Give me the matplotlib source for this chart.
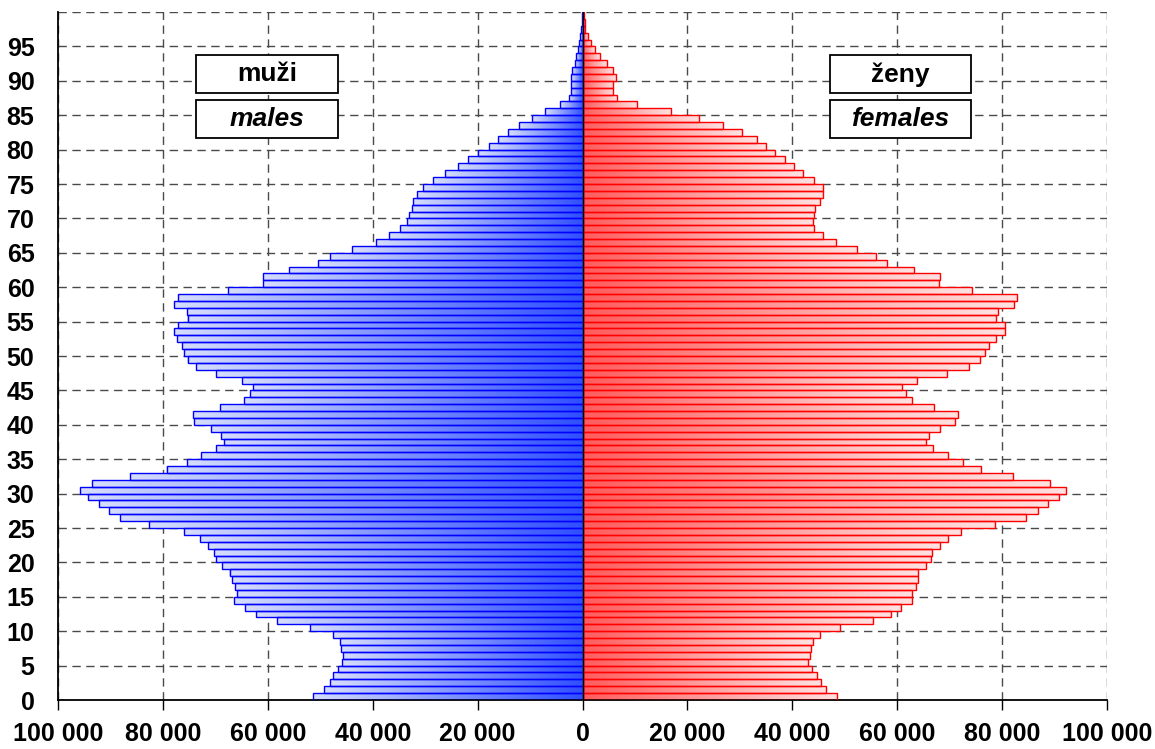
import numpy as np
import matplotlib.pyplot as plt
from matplotlib.patches import Rectangle
from matplotlib.colors import to_rgb

# věk 0-99, počty v tisících
ages = np.arange(100)
males = [51.4, 49.3, 48.1, 47.5, 46.7, 45.8, 45.7, 46.0, 46.3, 47.6,
         52.0, 58.3, 62.2, 64.3, 66.4, 65.9, 66.2, 66.9, 67.3, 68.7,
         69.8, 70.2, 71.4, 72.9, 76.0, 82.6, 88.1, 90.2, 92.2, 94.3,
         95.8, 93.5, 86.2, 79.3, 75.5, 72.8, 69.9, 68.3, 68.9, 70.8,
         74.1, 74.3, 69.2, 64.6, 63.4, 62.8, 64.9, 69.8, 73.6, 75.3,
         75.9, 76.3, 77.4, 77.8, 77.2, 75.3, 75.5, 77.9, 77.1, 67.6,
         61.0, 60.9, 55.9, 50.4, 48.1, 43.9, 39.3, 36.8, 34.7, 33.5,
         33.0, 32.5, 32.4, 31.6, 30.5, 28.5, 26.2, 23.7, 21.9, 19.9,
         17.8, 16.1, 14.2, 12.1, 9.7, 7.1, 4.2, 2.6, 2.2, 2.2,
         2.1, 2.0, 1.5, 1.2, 0.8, 0.6, 0.4, 0.3, 0.15, 0.1]
females = [48.6, 46.4, 45.4, 44.7, 43.7, 43.0, 43.3, 43.6, 43.9, 45.2,
           49.1, 55.4, 58.8, 60.7, 62.9, 62.9, 63.5, 63.9, 63.9, 65.4,
           66.5, 66.7, 68.1, 69.7, 72.2, 78.6, 84.5, 86.8, 88.8, 90.8,
           92.2, 89.2, 82.0, 75.9, 72.6, 69.7, 66.8, 65.5, 66.1, 68.1,
           71.1, 71.5, 67.0, 62.8, 61.6, 60.9, 63.7, 69.4, 73.6, 75.7,
           76.7, 77.5, 78.9, 80.5, 80.5, 78.9, 79.2, 82.2, 82.8, 74.2,
           67.9, 68.2, 63.2, 58.0, 56.0, 52.3, 48.4, 45.8, 44.2, 44.0,
           44.2, 44.4, 45.3, 45.9, 45.9, 44.2, 42.0, 40.3, 38.6, 36.7,
           34.9, 33.2, 30.4, 26.8, 22.3, 16.9, 10.4, 6.5, 5.9, 5.9,
           6.4, 5.9, 4.6, 3.3, 2.3, 1.6, 1.1, 0.5, 0.4, 0.3]
males = np.array(males) * 1000
females = np.array(females) * 1000

xticks = np.arange(-100000, 100001, 20000)
xlabels = ['100 000', '80 000', '60 000', '40 000', '20 000', '0',
           '20 000', '40 000', '60 000', '80 000', '100 000']
yticks = np.arange(0, 101, 5)
ylabels = [str(v) for v in range(0, 96, 5)] + ['']

plt.rcParams['font.family'] = ['Liberation Sans', 'DejaVu Sans']

fig = plt.figure(figsize=(11.55, 7.49), dpi=100)
ax = fig.add_axes([58 / 1155, 49 / 749, 1049 / 1155, 688 / 749])


def gradient(values, side, inner, outer):
    # přechod barvy v každém pruhu od osy k jeho konci
    ncols = 1200
    dist = (np.arange(ncols) + 0.5) / ncols * 100000
    img = np.zeros((len(values), ncols, 4))
    c_in = np.array(to_rgb(inner))
    c_out = np.array(to_rgb(outer))
    for i, v in enumerate(values):
        t = np.clip(dist / v, 0, 1)
        img[i, :, :3] = c_in + (c_out - c_in) * t[:, None]
        img[i, :, 3] = (dist <= v)
    if side < 0:
        img = img[:, ::-1]
        extent = (-100000, 0, 0, 100)
    else:
        extent = (0, 100000, 0, 100)
    ax.imshow(img, extent=extent, origin='lower', aspect='auto',
              interpolation='nearest', zorder=2)


gradient(males, -1, '#2f4fff', '#d6ddfb')
gradient(females, 1, '#ff5c5c', '#ffe2e2')

ax.barh(ages, -males, height=1, align='edge', color='none',
        edgecolor='#0000ff', linewidth=1, zorder=3)
ax.barh(ages, females, height=1, align='edge', color='none',
        edgecolor='#ff0000', linewidth=1, zorder=3)
ax.axvline(0, color='black', linewidth=1, zorder=4)

ax.set_xlim(-100000, 100000)
ax.set_ylim(0, 100)
ax.set_xticks(xticks)
ax.set_xticklabels(xlabels)
ax.set_yticks(yticks)
ax.set_yticklabels(ylabels)
ax.grid(True, linestyle=(0, (6, 4)), color='#4a4a4a', linewidth=1)
ax.set_axisbelow(True)
for s in ['top', 'right']:
    ax.spines[s].set_visible(False)
for s in ['left', 'bottom']:
    ax.spines[s].set_linewidth(1.3)
ax.tick_params(axis='x', length=7, width=1, labelsize=18, pad=9)
ax.tick_params(axis='y', length=0, labelsize=18, pad=17)
for lab in ax.get_xticklabels() + ax.get_yticklabels():
    lab.set_fontweight('bold')

# popisky muži / ženy
boxes = [(-73600, 88.2, 'muži', 'normal'), (-73600, 81.7, 'males', 'italic'),
         (47100, 88.2, 'ženy', 'normal'), (47100, 81.7, 'females', 'italic')]
for bx, by, txt, st in boxes:
    ax.add_patch(Rectangle((bx, by), 27000, 5.5, facecolor='white',
                           edgecolor='black', linewidth=1.3, zorder=5))
    ax.text(bx + 13500, by + 2.75, txt, ha='center', va='center',
            fontsize=19, fontweight='bold', fontstyle=st, zorder=6)

plt.savefig('out.png', dpi=100)
